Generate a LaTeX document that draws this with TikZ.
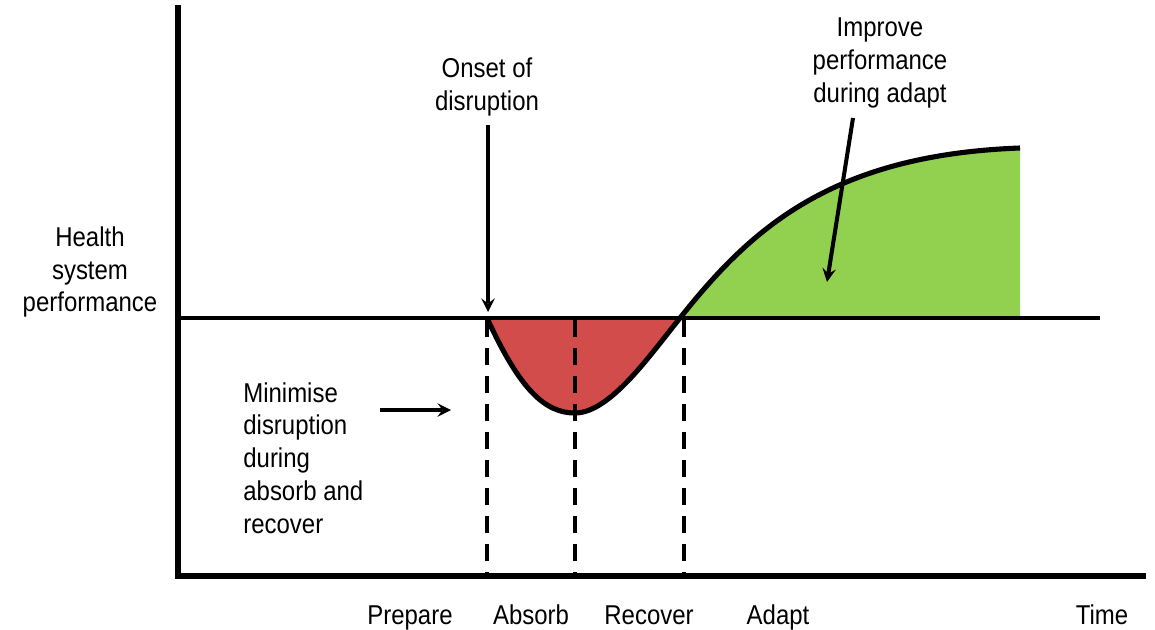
\documentclass[tikz,border=0pt]{standalone}
\usepackage{fontspec}
\setmainfont{Liberation Sans}[FakeStretch=0.88]
\usetikzlibrary{positioning}
\definecolor{dipred}{RGB}{210,76,76}
\definecolor{gaingreen}{RGB}{146,208,80}

\begin{document}
\begin{tikzpicture}[x=0.02cm,y=-0.02cm,font=\fontsize{15.5}{18.7}\selectfont,
  axis/.style={line width=2.9pt},
  dashline/.style={line width=2.3pt,dash pattern=on 0.34cm off 0.22cm},
  lbl/.style={inner sep=0pt,align=center},
  phase/.style={inner sep=0pt,anchor=base},
  arr/.style={->,>=stealth,line width=2.3pt}]
\useasboundingbox (0,0) rectangle (1155,629);
%\draw[help lines,step=100] (0,0) grid (1155,629);
% shaded areas
\fill[dipred] (487,318) .. controls (520,390) and (545,413) .. (575,413)
  .. controls (610,413) and (650,355) .. (680,318) -- cycle;
\fill[gaingreen] (680,318) .. controls (750,230) and (830,155) .. (1020,148) -- (1020,318) -- cycle;
% dashed phase lines
\draw[dashline] (487,320) -- (487,572);
\draw[dashline] (575,320) -- (575,578);
\draw[dashline] (684,320) -- (684,572);
% axes and baseline
\draw[line width=1.8pt] (178,318) -- (1100,318);
\draw[axis] (178,5) -- (178,576) -- (1146,576);
% performance curve
\draw[line width=2.9pt] (487,318) .. controls (520,390) and (545,413) .. (575,413)
  .. controls (610,413) and (650,355) .. (680,318)
  .. controls (750,230) and (830,155) .. (1020,148);
% labels
\node[lbl] (perf) at (90,272) {Health\\system\\performance};
\node[lbl] (onset) at (487,87) {Onset of\\disruption};
\node[lbl] (improve) at (880,63) {Improve\\performance\\during adapt};
\node[lbl,align=left,anchor=west] (minimise) at (243,458) {Minimise\\disruption\\during\\absorb and\\recover};
\node[phase] (prepare) at (410,624) {Prepare};
\node[phase] (absorb) at (531,624) {Absorb};
\node[phase] (recover) at (649,624) {Recover};
\node[phase] (adapt) at (778,624) {Adapt};
\node[phase] (time) at (1102,624) {Time};
% arrows
\coordinate (onsetpt) at (488,312);
\coordinate (gainpt) at (827,282);
\coordinate (minstart) at (380,410);
\coordinate (minend) at (451,410);
\draw[arr] (488,125) -- (onsetpt);
\draw[arr] (853,118) -- (gainpt);
\draw[arr] (minstart) -- (minend);
\end{tikzpicture}
\end{document}
